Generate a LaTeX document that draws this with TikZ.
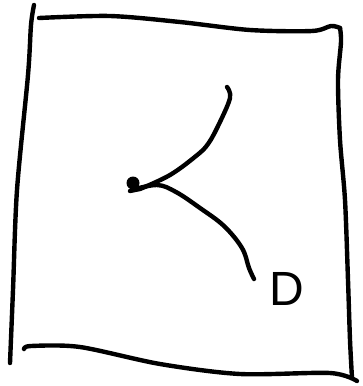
\documentclass[tikz,border=0pt]{standalone}
\usepackage{fontspec}
\setmainfont{Liberation Sans}
\begin{document}
\begin{tikzpicture}[x=1pt,y=-1pt,
  ink/.style={line width=4.4pt,line cap=round,line join=round,black},
  dotnode/.style={circle,fill=black,inner sep=0pt,minimum size=13pt},
  letter/.style={inner sep=0pt,font=\fontsize{48}{48}\selectfont}]
\useasboundingbox (0,0) rectangle (362,386);
% frame
\draw[ink] plot[smooth,tension=0.5] coordinates {(34,5) (31,25) (28,75) (17,190) (13,290) (10,363)};
\draw[ink] plot[smooth,tension=0.5] coordinates {(39,18) (110,16) (180,22) (250,30) (312,31) (331,26) (340,28)};
\draw[ink] plot[smooth,tension=0.5] coordinates {(340,28) (341,42) (338,80) (340,140) (345,200) (348,280) (350,340) (352,378)};
\draw[ink] plot[smooth,tension=0.5] coordinates {(24,349) (31,346) (80,347) (160,364) (240,374) (330,373) (357,381)};
% dot and curves
\node[dotnode] (dot) at (133,183) {};
\coordinate (topend) at (227,87);
\coordinate (botend) at (254,279);
\draw[ink] (130,191) -- (140,189) plot[smooth,tension=0.6] coordinates {(140,189) (170,175) (196,156) (208,144) (219,124) (230,98) (227,87)};
\draw[ink] plot[smooth,tension=0.6] coordinates {(132,190) (157,185) (176,192) (200,208) (224,226) (242,248) (249,268) (254,279)};
\node[letter] (d) at (287,289) {D};
\end{tikzpicture}
\end{document}
